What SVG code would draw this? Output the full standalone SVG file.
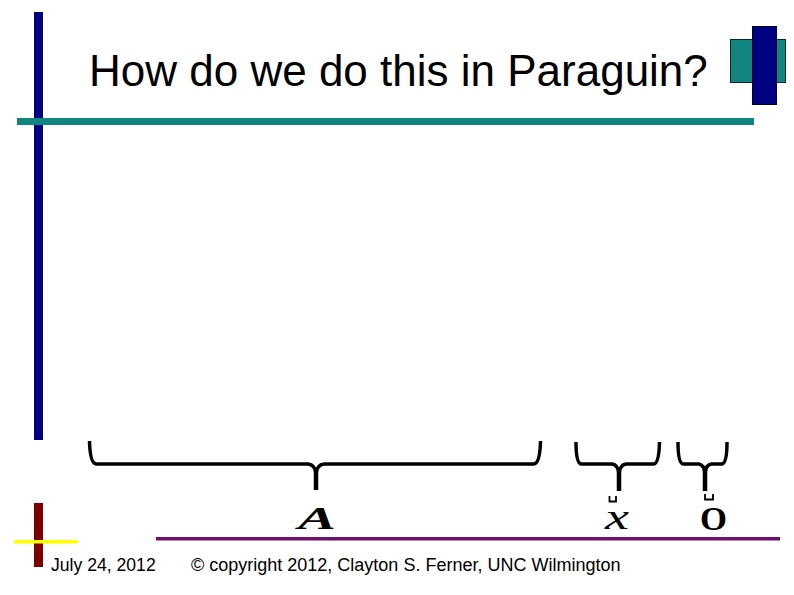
<svg xmlns="http://www.w3.org/2000/svg" width="794" height="595" viewBox="0 0 794 595">
<style>
.brace{fill:none;stroke:#000;stroke-width:3.5;stroke-linecap:butt;stroke-linejoin:round}
.stem{fill:none;stroke:#000;stroke-width:4.5}
.mark{fill:none;stroke:#000;stroke-width:1.8}
.sans{font-family:"Liberation Sans",Arial,sans-serif;fill:#000}
.serif{font-family:"Liberation Serif","Times New Roman",serif;fill:#000}
</style>
<rect width="794" height="595" fill="#fff"/>
<g id="decor">
<rect x="34" y="12" width="9" height="428" fill="#000080"/>
<rect x="17" y="118" width="737" height="7" fill="#138580"/>
<rect x="730.5" y="39.5" width="55" height="43" fill="#138580" stroke="#0a2a2a" stroke-width="1"/>
<rect x="752.5" y="26.5" width="24" height="78" fill="#000080" stroke="#000030" stroke-width="1"/>
<rect x="34" y="503" width="9" height="64" fill="#800000"/>
<rect x="14" y="540" width="64" height="3.5" fill="#ffff00"/>
<rect x="156" y="537" width="624" height="3.5" fill="#6b116b"/>
</g>
<g id="title">
<text class="sans" x="89" y="86" font-size="44">How do we do this in Paraguin?</text>
</g>
<g id="braces">
<path class="brace" d="M89.5,441 Q90,463 96,464 L308,464 Q315,465 316,473 M324,464 Q317,465 316,473 M324,464 L534,464 Q540,463 540.5,441"/>
<path class="stem" d="M316,470 L316,490"/>
<path class="brace" d="M576,442 Q576,463 581,464 L612,464 Q618,465 619,473 M626,464 Q620,465 619,473 M626,464 L654,464 Q659,463 659.5,442"/>
<path class="stem" d="M619,470 L619,491"/>
<path class="brace" d="M678,442 Q678,463 683,464 L699,464 Q704,465 705,473 M711,464 Q706,465 705,473 M711,464 L722,464 Q727,463 727,442"/>
<path class="stem" d="M705,470 L705,491"/>
</g>
<g id="labels">
<text class="serif" x="298" y="529" font-size="32" font-style="italic" font-weight="bold" textLength="38" lengthAdjust="spacingAndGlyphs">A</text>
<path class="mark" d="M609.5,496 V501.5 H616 V496"/>
<text class="serif" x="605" y="528.5" font-size="36" font-style="italic" textLength="24" lengthAdjust="spacingAndGlyphs">x</text>
<path class="mark" d="M705,494 V499.5 H713 V494"/>
<text class="serif" x="700" y="530" font-size="33" font-weight="bold" textLength="27" lengthAdjust="spacingAndGlyphs">O</text>
</g>
<g id="footer">
<text class="sans" x="51" y="571" font-size="17.6">July 24, 2012</text>
<text class="sans" x="191" y="571" font-size="18">© copyright 2012, Clayton S. Ferner, UNC Wilmington</text>
</g>
</svg>
